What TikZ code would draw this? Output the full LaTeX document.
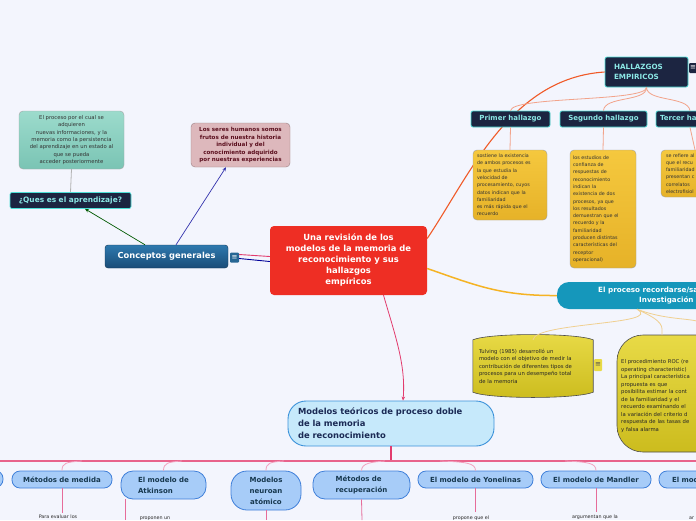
\documentclass[tikz,border=0pt]{standalone}
\usepackage{fontspec}
\setmainfont{DejaVu Sans}
\usetikzlibrary{arrows.meta}

\definecolor{bg}{RGB}{243,245,253}
\definecolor{navy}{RGB}{28,37,65}
\definecolor{hcyan}{RGB}{77,224,216}
\definecolor{hcyantext}{RGB}{140,232,230}
\definecolor{ctop}{RGB}{46,121,174}
\definecolor{cbot}{RGB}{26,76,120}
\definecolor{redc}{RGB}{238,46,36}
\definecolor{tealtop}{RGB}{156,219,204}
\definecolor{tealbot}{RGB}{122,196,180}
\definecolor{pinkbox}{RGB}{221,184,188}
\definecolor{maroon}{RGB}{91,15,30}
\definecolor{ytop}{RGB}{245,200,62}
\definecolor{ybot}{RGB}{230,178,40}
\definecolor{ltop}{RGB}{232,218,70}
\definecolor{lbot}{RGB}{204,188,30}
\definecolor{proc}{RGB}{21,151,187}
\definecolor{mfill}{RGB}{198,233,251}
\definecolor{mline}{RGB}{60,146,218}
\definecolor{mtext}{RGB}{27,42,85}
\definecolor{bfill}{RGB}{167,204,248}
\definecolor{bline}{RGB}{63,127,217}
\definecolor{btext}{RGB}{23,56,79}
\definecolor{orangel}{RGB}{240,90,40}
\definecolor{salmon}{RGB}{242,163,138}
\definecolor{goldl}{RGB}{245,179,36}
\definecolor{lgold}{RGB}{240,208,144}
\definecolor{crimson}{RGB}{226,60,110}
\definecolor{lpink}{RGB}{242,160,190}
\definecolor{mpink}{RGB}{230,108,154}

\begin{document}
\begin{tikzpicture}[x=1pt,y=-1pt,
  navybox/.style={draw=hcyan, line width=0.7pt, fill=navy, rounded corners=2pt,
    text=hcyantext, font=\bfseries\fontsize{7}{9.5}\selectfont, inner sep=0pt},
  yellowbox/.style={draw=gray!75, top color=ytop, bottom color=ybot, rounded corners=4pt,
    text=black!80, font=\fontsize{4.8}{7.3}\selectfont, align=left, inner sep=0pt},
  limebox/.style={inner sep=0pt, text=black!85, font=\fontsize{5.3}{7.5}\selectfont, align=left},
  bnode/.style={draw=bline, fill=bfill, line width=0.8pt, text=btext,
    font=\bfseries\fontsize{7}{11}\selectfont, inner sep=0pt},
  notebox/.style={rounded corners=1pt, inner sep=0pt, minimum width=9pt, minimum height=10pt,
    font=\fontsize{7}{7}\selectfont},
  smalltext/.style={font=\fontsize{4.8}{6}\selectfont, text=black!85, inner sep=0pt},
  tip/.style={-{Stealth[length=4pt,width=3.5pt]}}
]
\useasboundingbox (0,0) rectangle (696,520);
\clip (0,0) rectangle (696,520);
\fill[bg] (0,0) rectangle (696,520);

% conceptos generales
\node[draw=cbot!70!black, top color=ctop, bottom color=cbot, rounded corners=3pt, text=white,
  font=\bfseries\fontsize{8.3}{10}\selectfont, minimum width=123pt, minimum height=23pt, inner sep=0pt]
  (concept) at (166.5,256.5) {Conceptos generales};
\node[notebox, fill=ctop!85!black, text=white] (note1) at (234.5,257.5) {≡};
\node[navybox, font=\bfseries\fontsize{7.4}{9}\selectfont, minimum width=121pt, minimum height=16pt]
  (ques) at (70.5,200.5) {¿Ques es el aprendizaje?};
\node[draw=gray!70, top color=tealtop, bottom color=tealbot, rounded corners=4pt, text=black!80,
  font=\fontsize{5.3}{7.3}\selectfont, align=center, minimum width=105pt, minimum height=58pt, inner sep=0pt]
  (def) at (71.5,140) {El proceso por el cual se\\adquieren\\nuevas informaciones, y la\\memoria como la persistencia\\del aprendizaje en un estado al\\que se pueda\\acceder posteriormente};
\node[draw=pinkbox!70!black, fill=pinkbox, rounded corners=4pt, text=maroon,
  font=\bfseries\fontsize{5.6}{7.5}\selectfont, align=center, minimum width=99pt, minimum height=44pt, inner sep=0pt]
  (humans) at (240.5,145) {Los seres humanos somos\\frutos de nuestra historia\\individual y del\\conocimiento adquirido\\por nuestras experiencias};

\draw[gray!60, line width=0.8pt] (def.south) -- (ques.north);
\draw[tip, green!35!black, line width=0.7pt] ([xshift=-21.5pt]concept.north) -- ([xshift=14.5pt]ques.south);
\draw[tip, blue!60!black!80, line width=0.7pt] ([xshift=9.5pt]concept.north) -- ([xshift=-14.5pt]humans.south);

% nodo central
\node[fill=redc, rounded corners=4pt, text=white, font=\bfseries\fontsize{8.4}{11}\selectfont,
  align=center, minimum width=157pt, minimum height=69pt, inner sep=0pt]
  (central) at (348.5,260.5) {Una revisión de los\\modelos de la memoria de\\reconocimiento y sus\\hallazgos\\empíricos};
\draw[crimson, line width=0.9pt] ([yshift=3pt]note1.east) -- ([yshift=4pt]central.west);
\draw[blue!60!black, line width=0.9pt] ([yshift=-1pt]note1.east) -- ([yshift=-1pt]central.west);

% hallazgos
\node[navybox, font=\bfseries\fontsize{7.2}{10}\selectfont, align=left, minimum width=83pt, minimum height=30pt]
  (hall) at (646.5,72) {HALLAZGOS\\EMPIRICOS\hspace*{20pt}};
\node[notebox, fill=navy, text=white, minimum width=8pt] (note2) at (693,68) {≡};
\draw[orangel, line width=1.1pt] ([yshift=22pt]central.east) .. controls (470,175) and (510,78) .. (hall.west);

\node[navybox, minimum width=79pt, minimum height=16pt] (primer) at (510.5,119) {Primer hallazgo};
\node[navybox, minimum width=87pt, minimum height=16pt] (segundo) at (603.5,119) {Segundo hallazgo};
\node[navybox, minimum width=68pt, minimum height=16pt] (tercer) at (690,119) {Tercer hallazgo};
\draw[salmon, line width=0.8pt] (hall.south) .. controls (647,102) and (512,96) .. (primer.north);
\draw[salmon, line width=0.8pt] (hall.south) .. controls (647,102) and (604,96) .. (segundo.north);
\draw[salmon, line width=0.8pt] (hall.south) .. controls (647,102) and (688,96) .. (tercer.north);

\node[yellowbox, text width=66pt, minimum width=74pt, minimum height=70pt]
  (y1) at (510,185) {sostiene la existencia\\de ambos procesos es\\la que estudia la\\velocidad de\\procesamiento, cuyos\\datos indican que la\\familiaridad\\es más rápida que el\\recuerdo};
\node[yellowbox, text width=60pt, minimum width=66pt, minimum height=118pt]
  (y2) at (603,209) {los estudios de\\confianza de\\respuestas de\\reconocimiento\\indican la\\existencia de dos\\procesos, ya que\\los resultados\\demuestran que el\\recuerdo y la\\familiaridad\\producen distintas\\características del\\receptor\\operacional)};
\node[yellowbox, text width=58pt, minimum width=68pt, minimum height=47pt]
  (y3) at (695,173.5) {se refiere al\\que el recu\\familiaridad\\presentan c\\correlatos\\electrofisiol};
\draw[salmon, line width=0.8pt] (primer.south) -- (y1.north);
\draw[salmon, line width=0.8pt] (segundo.south) -- (y2.north);
\draw[salmon, line width=0.8pt] (tercer.south) -- (y3.north);

% proceso recordarse/saber
\node[fill=proc, rounded corners=12pt, minimum width=160pt, minimum height=27pt] (proceso) at (637,295.5) {};
\node[text=white, font=\bfseries\fontsize{7.2}{10}\selectfont, align=left, anchor=west, inner sep=0pt]
  (procesotxt) at (598,295.5) {El proceso recordarse/sa\\\hspace*{41pt}Investigación};
\draw[goldl, line width=1.5pt] ([yshift=-8pt]central.east) .. controls (475,285) and (500,296) .. (proceso.west);

\node[minimum width=120pt, minimum height=52pt, inner sep=0pt] (tul) at (533,366) {};
\path[draw=gray!60!black, line width=0.6pt, top color=ltop, bottom color=lbot]
  (tul.north west) .. controls ([xshift=17pt,yshift=7pt]tul.north west) and ([xshift=-17pt,yshift=7pt]tul.north east) .. (tul.north east)
  -- (tul.south east) .. controls ([xshift=-17pt,yshift=-7pt]tul.south east) and ([xshift=17pt,yshift=-7pt]tul.south west) .. (tul.south west) -- cycle;
\node[limebox, text width=108pt] (tultxt) at (tul.center)
  {Tulving (1985) desarrolló un\\modelo con el objetivo de medir la\\contribución de diferentes tipos de\\procesos para un desempeño total\\de la memoria};
\node[notebox, fill=ltop, text=black!70, minimum width=8pt, minimum height=12pt] (note3) at (598,365) {≡};

\path[draw=gray!60!black, line width=0.6pt, top color=ltop, bottom color=lbot, rounded corners=26pt]
  (617,335) rectangle (760,452);
\node[limebox, anchor=west, text width=100pt] (roc) at (621,396)
  {El procedimiento ROC (re\\operating characteristic)\\La principal característica\\propuesta es que\\posibilita estimar la cont\\de la familiaridad y el\\recuerdo examinando el\\la variación del criterio d\\respuesta de las tasas de\\y falsa alarma};
\coordinate (roctop) at (662,335);
\draw[lgold, line width=0.8pt] (proceso.south) .. controls (665,325) and (535,322) .. (tul.north);
\draw[lgold, line width=0.8pt] (proceso.south) .. controls (665,322) and (662,326) .. (roctop);
\draw[lgold, line width=0.8pt] (proceso.south) .. controls (665,320) and (690,318) .. (700,322);

% modelos teoricos
\node[draw=mline, fill=mfill, line width=0.9pt, rounded corners=18pt, text=mtext,
  font=\bfseries\fontsize{8.4}{12}\selectfont, align=left, text width=186pt,
  minimum width=206pt, minimum height=45pt, inner sep=0pt]
  (models) at (391,423.5) {Modelos teóricos de proceso doble\\de la memoria\\de reconocimiento};
\draw[tip, crimson, line width=0.8pt] ([xshift=35pt]central.south) .. controls (395,335) and (406,365) .. ([xshift=12pt]models.north);

\coordinate (barL) at (0,461);
\coordinate (barR) at (696,461);
\coordinate (barM) at (391,461);
\draw[crimson, line width=1.3pt] (models.south) -- (barM);
\draw[crimson!80, line width=1.1pt] (barL) -- (barR);

% modelos (fila inferior)
\node[bnode, rounded corners=8pt, minimum width=66pt, minimum height=17pt] (b0) at (-30,479) {};
\node[bnode, rounded corners=8pt, minimum width=100pt, minimum height=17pt] (medida) at (62,479.5) {Métodos de medida};
\node[bnode, rounded corners=12pt, minimum width=85pt, minimum height=28pt, align=left] (atkinson) at (163.5,485) {El modelo de\\Atkinson};
\node[bnode, rounded corners=16pt, minimum width=70pt, minimum height=39pt, align=center] (neuro) at (266,490.5) {Modelos\\neuroan\\atómico};
\node[bnode, rounded corners=12pt, minimum width=97pt, minimum height=28pt, align=left] (recup) at (361.5,485) {Métodos de\\recuperación};
\node[bnode, rounded corners=8pt, minimum width=115pt, minimum height=17pt] (yonel) at (475.5,479.5) {El modelo de Yonelinas};
\node[bnode, rounded corners=8pt, minimum width=110pt, minimum height=17pt] (mandler) at (596,479.5) {El modelo de Mandler};
\node[bnode, rounded corners=8pt, minimum width=100pt, minimum height=17pt, align=left, text width=74pt] (elmod) at (709,479.5) {El modelo};

\coordinate (k1) at (82,461);
\coordinate (k2) at (182,461);
\coordinate (k3) at (284,461);
\coordinate (k4) at (385,461);
\coordinate (k5) at (440,461);
\coordinate (k6) at (565,461);
\draw[lpink, line width=0.8pt] (medida.north) .. controls (62,463) and (66,462) .. (k1);
\draw[lpink, line width=0.8pt] (atkinson.north) .. controls (163.5,463) and (168,462) .. (k2);
\draw[lpink, line width=0.8pt] (neuro.north) .. controls (266,463) and (270,462) .. (k3);
\draw[lpink, line width=0.8pt] (recup.north) .. controls (361.5,463) and (372,462) .. (k4);
\draw[lpink, line width=0.8pt] (yonel.north) .. controls (475.5,463) and (466,462) .. (k5);
\draw[lpink, line width=0.8pt] (mandler.north) .. controls (596,463) and (588,462) .. (k6);

\node[smalltext] (t1) at (58,517) {Para evaluar los};
\node[smalltext] (t2) at (155,518.5) {proponen un};
\node[smalltext] (t3) at (471,518) {propone que el};
\node[smalltext] (t4) at (595,517) {argumentan que la};
\node[smalltext, anchor=west] (t5) at (689,518) {ar};
\coordinate (r2) at (125,520);
\coordinate (r3) at (266,520);
\coordinate (r4) at (362,520);
\draw[mpink, line width=0.8pt] (medida.south) -- ([yshift=2pt]t1.north -| medida.south);
\draw[mpink, line width=0.8pt] (atkinson.south west -| r2) -- (r2);
\draw[mpink, line width=0.8pt] (neuro.south) -- (r3);
\draw[mpink, line width=0.8pt] (recup.south) -- (r4);
\draw[mpink, line width=0.8pt] (yonel.south) -- (475.5,512);
\draw[mpink, line width=0.8pt] (mandler.south) -- (596,512);
\end{tikzpicture}
\end{document}
